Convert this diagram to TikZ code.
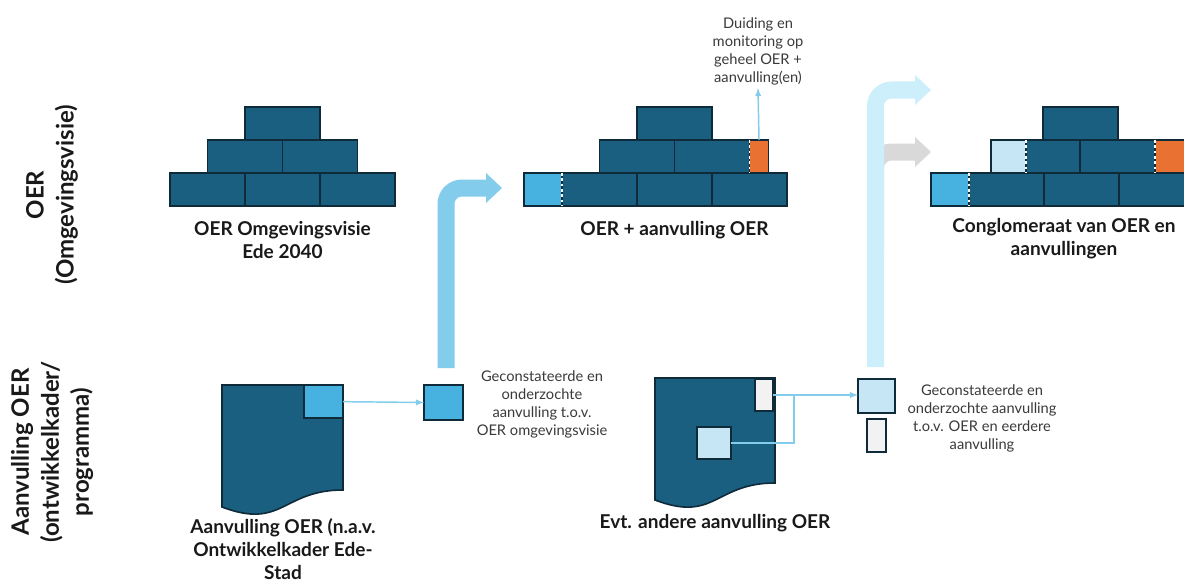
\documentclass[tikz,border=0pt]{standalone}
\usepackage{fontspec}
\setmainfont{Lato}
\usepackage{tikz}
\usetikzlibrary{shapes, arrows}
\usetikzlibrary{positioning}

\definecolor{oerblue}{HTML}{1A5E80}
\definecolor{oerline}{HTML}{0F2A38}
\definecolor{midblue}{HTML}{47B1E0}
\definecolor{paleblue}{HTML}{C6E6F6}
\definecolor{oerorange}{HTML}{E97132}
\definecolor{arrowblue}{HTML}{83CCEB}
\definecolor{arrowpale}{HTML}{CDEEFB}
\definecolor{arrowgray}{HTML}{D9D9D9}
\definecolor{notegray}{HTML}{F2F2F2}
\definecolor{textgray}{HTML}{3A3A3A}

\tikzstyle{brick} = [rectangle, minimum width = 56.25pt, minimum height = 24.75pt,
  inner sep = 0, outer sep = 0, draw = oerline, line width = 1.2pt,
  fill = oerblue]
\tikzstyle{part} = [brick, minimum width = 28.5pt, fill = midblue]
\tikzstyle{seam} = [white, line width = 1pt, dash pattern = on 2pt off 2pt]
\tikzstyle{tile} = [
  rectangle, inner sep = 0, outer sep = 0,
  draw = oerline, line width = 1.3pt
]
\tikzstyle{doc} = [fill = oerblue, draw = oerline, line width = 1.2pt]
\tikzstyle{caption} = [font = \bfseries\fontsize{14.3}{17.25}\selectfont,
  align = center, text = black!90]
\tikzstyle{note} = [font = \fontsize{11}{13.5}\selectfont, align = center,
  text = textgray]
\tikzstyle{rowlabel} = [font = \bfseries\fontsize{18}{22.5}\selectfont,
  align = center, rotate = 90, text = black!90]
\tikzstyle{link} = [arrowblue, line width = 1.1pt, -latex]
\tikzstyle{bigarrow} = [line width = 12.75pt, rounded corners = 12pt]

\begin{document}
\begin{tikzpicture}[x = 0.75pt, y = -0.75pt, node distance = 0]
  \useasboundingbox (0, 0) rectangle (1184, 585);
  \clip (0, 0) rectangle (1184, 585);

  % row labels
  \node [rowlabel] (row-oer) at (52, 195) {OER\\(Omgevingsvisie)};
  \node [rowlabel] (row-aanv) at (52, 452) {Aanvulling OER\\(ontwikkelkader/\\programma)};

  % pyramid 1
  \node [brick, anchor = south west] (brick-1-0-a) at (170, 206) {};
  \node [brick, right = 0pt of brick-1-0-a] (brick-1-0-b) {};
  \node [brick, right = 0pt of brick-1-0-b] (brick-1-0-c) {};
  \node [brick, anchor = south west] (brick-1-1-a) at (207.5, 173) {};
  \node [brick, right = 0pt of brick-1-1-a] (brick-1-1-b) {};
  \node [brick, anchor = south west] (brick-1-2-a) at (245, 140) {};
  \node [caption, below = 8pt of brick-1-0-b] (cap-1) {OER Omgevingsvisie\\Ede 2040};

  % pyramid 2
  \node [part, anchor = south west] (part-2-0) at (524, 206) {};
  \node [brick, right = 0pt of part-2-0] (brick-2-0-a) {};
  \node [brick, right = 0pt of brick-2-0-a] (brick-2-0-b) {};
  \node [brick, right = 0pt of brick-2-0-b] (brick-2-0-c) {};
  \node [brick, anchor = south west] (brick-2-1-a) at (599.5, 173) {};
  \node [brick, right = 0pt of brick-2-1-a] (brick-2-1-b) {};
  \node [part, right = 0pt of brick-2-1-b, minimum width = 14.25pt,
    fill = oerorange] (part-2-1) {};
  \node [brick, anchor = south west] (brick-2-2-a) at (637, 140) {};
  \draw [seam] (brick-2-0-a.north west) -- (brick-2-0-a.south west);
  \draw [seam] (part-2-1.north west) -- (part-2-1.south west);
  \node [caption, below = 8pt of brick-2-0-b] (cap-2) {OER + aanvulling OER};

  \node [note, anchor = south, inner sep = 2pt] (duiding) at (758, 88)
    {Duiding en\\monitoring op\\geheel OER +\\aanvulling(en)};
  \draw [link] (part-2-1.north) -- (duiding.south);

  % pyramid 3
  \node [part, anchor = south west] (part-3-0) at (931, 206) {};
  \node [brick, right = 0pt of part-3-0] (brick-3-0-a) {};
  \node [brick, right = 0pt of brick-3-0-a] (brick-3-0-b) {};
  \node [brick, right = 0pt of brick-3-0-b] (brick-3-0-c) {};
  \node [part, anchor = south west, minimum width = 26.25pt,
    fill = paleblue] (part-3-1) at (991, 173) {};
  \node [brick, right = 0pt of part-3-1, minimum width = 40.5pt] (brick-3-1-a) {};
  \node [brick, right = 0pt of brick-3-1-a] (brick-3-1-b) {};
  \node [part, right = 0pt of brick-3-1-b, fill = oerorange] (part-3-2) {};
  \node [brick, anchor = south west] (brick-3-2-a) at (1043, 140) {};
  \draw [seam] (brick-3-0-a.north west) -- (brick-3-0-a.south west);
  \draw [seam] (brick-3-1-a.north west) -- (brick-3-1-a.south west);
  \draw [seam] (part-3-2.north west) -- (part-3-2.south west);
  \node [caption] (cap-3) at (1064, 239) {Conglomeraat van OER en\\aanvullingen};

  % big arrows
  \coordinate (rise-1-start) at (446, 368);
  \coordinate (rise-1-end) at (486, 188);
  \draw [bigarrow, arrowblue] (rise-1-start) |- (rise-1-end);
  \fill [arrowblue] (rise-1-end) ++(0, -15) -- ++(16, 15) -- ++(-16, 15) -- cycle;

  \coordinate (rise-3-start) at (875.5, 250);
  \coordinate (rise-3-end) at (915, 152);
  \draw [bigarrow, arrowgray] (rise-3-start) |- (rise-3-end);
  \fill [arrowgray] (rise-3-end) ++(0, -15) -- ++(16, 15) -- ++(-16, 15) -- cycle;

  \coordinate (rise-2-start) at (875.5, 367);
  \coordinate (rise-2-end) at (915, 90);
  \draw [bigarrow, arrowpale] (rise-2-start) |- (rise-2-end);
  \fill [arrowpale] (rise-2-end) ++(0, -15) -- ++(16, 15) -- ++(-16, 15) -- cycle;

  % first addition
  \draw [doc] (222, 385) -- (343, 385) -- (343, 490)
    .. controls (282.5, 490) and (282.5, 530) .. (222, 507) -- cycle;
  \node [tile, fill = midblue, minimum width = 29.25pt, minimum height = 25pt,
    anchor = north east] (doc-1-sq) at (343, 385) {};
  \node [tile, fill = midblue, minimum width = 29.25pt, minimum height = 26.25pt]
    (box-1) at (443.5, 402.5) {};
  \draw [link] (doc-1-sq.east) -- (box-1.west);
  \node [note] (note-1) at (542, 404)
    {Geconstateerde en\\onderzochte\\aanvulling t.o.v.\\OER omgevingsvisie};
  \node [caption] (cap-4) at (283, 549)
    {Aanvulling OER (n.a.v.\\Ontwikkelkader Ede-\\Stad};

  % second addition
  \draw [doc] (655, 378) -- (775, 378) -- (775, 483)
    .. controls (715, 483) and (715, 523) .. (655, 500) -- cycle;
  \node [tile, fill = notegray, minimum width = 13.5pt, minimum height = 24pt]
    (doc-2-gray) at (764, 395) {};
  \node [tile, fill = paleblue, minimum width = 25.5pt, minimum height = 24pt]
    (doc-2-sq) at (714, 443) {};
  \node [tile, fill = paleblue, minimum width = 27.75pt, minimum height = 25.5pt]
    (box-2) at (876.5, 396) {};
  \node [tile, fill = notegray, minimum width = 14.25pt, minimum height = 24.75pt,
    below = 4.5pt of box-2] (box-2-gray) {};
  \coordinate [right = 15.75pt of doc-2-gray.east] (join);
  \draw [link] (doc-2-gray.east) -- (doc-2-gray.east -| box-2.west);
  \draw [arrowblue, line width = 1.1pt] (doc-2-sq.east) -| (join);
  \node [note] (note-2) at (982, 418)
    {Geconstateerde en\\onderzochte aanvulling\\t.o.v. OER en eerdere\\aanvulling};
  \node [caption] (cap-5) at (715, 523) {Evt. andere aanvulling OER};
\end{tikzpicture}
\end{document}
